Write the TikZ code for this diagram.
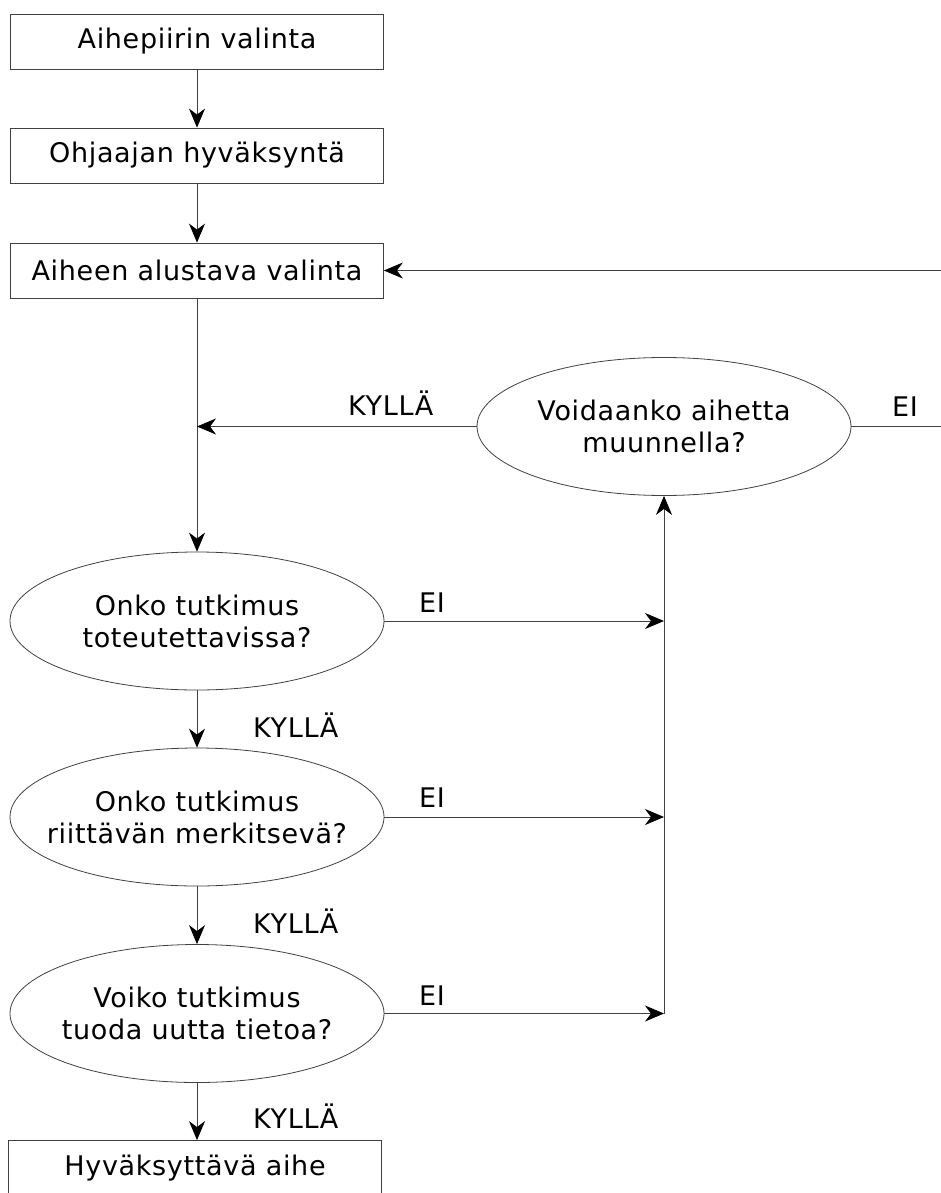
\documentclass[tikz,border=0pt]{standalone}
\usepackage{fontspec}
\setmainfont{DejaVu Sans}[LetterSpace=2.5]
\usetikzlibrary{shapes.geometric,arrows.meta}
\newcommand{\cl}[1]{\makebox[0pt]{#1}}
\begin{document}
\begin{tikzpicture}[x=1pt,y=-1pt,
  every node/.style={font=\fontsize{27}{32}\selectfont},
  stepbox/.style={draw=black!75,line width=0.8pt,rectangle,minimum width=373pt,minimum height=55pt,inner sep=0pt},
  question/.style={draw=black!75,line width=0.8pt,ellipse,minimum width=374pt,minimum height=138pt,inner sep=0pt,align=center},
  lbl/.style={anchor=base west,inner sep=0pt},
  conn/.style={draw=black!75,line width=0.8pt},
  arr/.style={conn,-{Stealth[length=19pt,width=16pt,inset=6pt,color=black]}}]
\useasboundingbox (0,0) rectangle (941,1193);
\clip (0,0) rectangle (941,1193);
% nodes
\node[stepbox] (b1) at (197,41.5) {Aihepiirin valinta};
\node[stepbox] (b2) at (197,155.5) {Ohjaajan hyväksyntä};
\node[stepbox] (b3) at (197,270.5) {Aiheen alustava valinta};
\node[question] (vo) at (664,426.5) {\cl{Voidaanko aihetta}\\\cl{muunnella?}};
\node[question] (e1) at (197,621) {\cl{Onko tutkimus}\\\cl{toteutettavissa?}};
\node[question] (e2) at (197,817) {\cl{Onko tutkimus}\\\cl{riittävän merkitsevä?}};
\node[question] (e3) at (197,1013.5) {\cl{Voiko tutkimus}\\\cl{tuoda uutta tietoa?}};
\node[stepbox] (fin) at (195,1168) {Hyväksyttävä aihe};
% coordinates
\coordinate (m) at (197,426.5);
\coordinate (rt) at (941,270.5);
\coordinate (rr) at (941,426.5);
\coordinate (j1) at (664,621);
\coordinate (j2) at (664,817);
\coordinate (j3) at (664,1013.5);
% connectors
\draw[arr] (b1.south) -- (b2.north);
\draw[arr] (b2.south) -- (b3.north);
\draw[arr] (rt) -- (b3.east);
\draw[conn] (b3.south) -- (m);
\draw[arr] (m) -- (e1.north);
\draw[arr] (vo.west) -- (m);
\draw[conn] (vo.east) -- (rr);
\draw[arr] (e1.south) -- (e2.north);
\draw[arr] (e2.south) -- (e3.north);
\draw[arr] (e3.south) -- (e3.south |- fin.north);
\draw[arr] (e1.east) -- (j1);
\draw[arr] (e2.east) -- (j2);
\draw[arr] (e3.east) -- (j3);
\draw[arr] (j3) -- (vo.south);
% labels
\node[lbl] (lk0) at (348,415) {KYLLÄ};
\node[lbl] (le0) at (892,416) {EI};
\node[lbl] (le1) at (419,612) {EI};
\node[lbl] (le2) at (419,807) {EI};
\node[lbl] (le3) at (419,1005) {EI};
\node[lbl] (lk1) at (253,737) {KYLLÄ};
\node[lbl] (lk2) at (253,933) {KYLLÄ};
\node[lbl] (lk3) at (253,1128) {KYLLÄ};
\end{tikzpicture}
\end{document}
